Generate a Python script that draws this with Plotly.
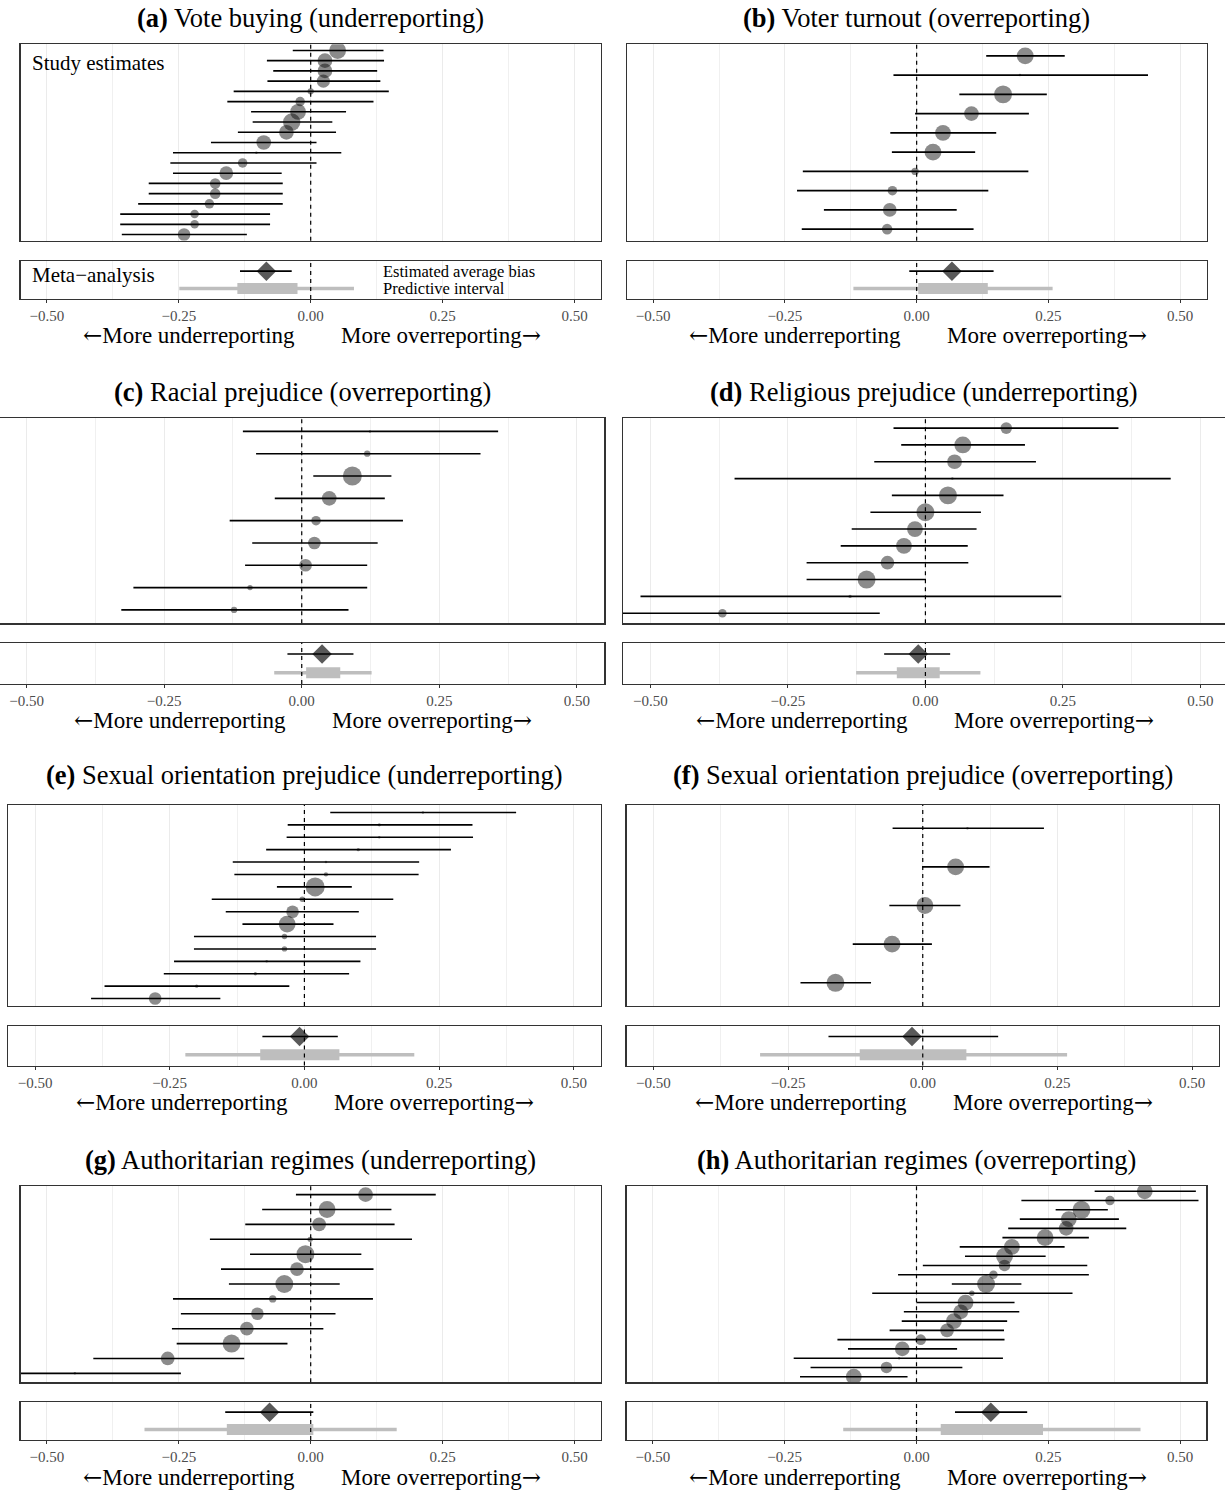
import math
import plotly.graph_objects as go

# ---------------- data ----------------
a_est = [0.051, 0.027, 0.027, 0.024, 0.000, -0.020, -0.024, -0.036, -0.046, -0.089, -0.103, -0.129, -0.160, -0.181, -0.181, -0.192, -0.220, -0.220, -0.240]
a_lo = [-0.034, -0.083, -0.071, -0.082, -0.146, -0.158, -0.113, -0.110, -0.138, -0.189, -0.261, -0.266, -0.261, -0.307, -0.307, -0.327, -0.361, -0.361, -0.358]
a_hi = [0.138, 0.139, 0.126, 0.132, 0.148, 0.119, 0.067, 0.041, 0.048, 0.011, 0.058, 0.011, -0.055, -0.053, -0.053, -0.053, -0.077, -0.077, -0.121]
a_w = [0.79, 0.60, 0.60, 0.48, 0.11, 0.25, 0.69, 0.84, 0.60, 0.60, 0.01, 0.25, 0.52, 0.31, 0.31, 0.25, 0.20, 0.20, 0.44]
a_meta = [-0.084, -0.134, -0.036]
a_pi_inner = [-0.139, -0.025]
a_pi_outer = [-0.249, 0.082]

b_est = [0.206, 0.196, 0.164, 0.104, 0.050, 0.031, -0.003, -0.046, -0.051, -0.056]
b_lo = [0.132, -0.044, 0.081, -0.003, -0.050, -0.047, -0.216, -0.227, -0.176, -0.218]
b_hi = [0.281, 0.439, 0.247, 0.213, 0.151, 0.111, 0.212, 0.136, 0.076, 0.108]
b_w = [0.79, 0.01, 0.89, 0.60, 0.69, 0.79, 0.15, 0.25, 0.52, 0.31]
b_meta = [0.067, -0.014, 0.146]
b_pi_inner = [0.003, 0.135]
b_pi_outer = [-0.120, 0.258]

c_est = [0.124, 0.119, 0.092, 0.050, 0.026, 0.023, 0.007, -0.094, -0.123]
c_lo = [-0.107, -0.083, 0.021, -0.049, -0.131, -0.090, -0.103, -0.306, -0.328]
c_hi = [0.357, 0.325, 0.163, 0.151, 0.184, 0.138, 0.119, 0.119, 0.085]
c_w = [0.01, 0.11, 1.0, 0.60, 0.25, 0.44, 0.44, 0.08, 0.11]
c_meta = [0.037, -0.026, 0.094]
c_pi_inner = [0.008, 0.070]
c_pi_outer = [-0.050, 0.127]

d_est = [0.147, 0.068, 0.053, 0.049, 0.041, 0.000, -0.019, -0.039, -0.069, -0.107, -0.137, -0.369]
d_lo = [-0.058, -0.044, -0.093, -0.347, -0.061, -0.100, -0.134, -0.154, -0.216, -0.216, -0.518, -0.655]
d_hi = [0.351, 0.181, 0.201, 0.446, 0.142, 0.101, 0.093, 0.077, 0.078, 0.001, 0.247, -0.083]
d_w = [0.37, 0.79, 0.60, 0.01, 0.89, 0.89, 0.69, 0.69, 0.52, 0.89, 0.03, 0.20]
d_meta = [-0.013, -0.075, 0.045]
d_pi_inner = [-0.052, 0.026]
d_pi_outer = [-0.126, 0.100]

e_est = [0.220, 0.139, 0.139, 0.100, 0.040, 0.040, 0.020, -0.004, -0.022, -0.032, -0.037, -0.037, -0.070, -0.091, -0.200, -0.277]
e_lo = [0.048, -0.031, -0.033, -0.071, -0.133, -0.130, -0.051, -0.172, -0.146, -0.115, -0.205, -0.205, -0.242, -0.261, -0.371, -0.396]
e_hi = [0.393, 0.312, 0.313, 0.272, 0.213, 0.212, 0.088, 0.165, 0.101, 0.054, 0.133, 0.133, 0.104, 0.083, -0.028, -0.156]
e_w = [0.01, 0.03, 0.01, 0.03, 0.01, 0.05, 1.0, 0.08, 0.44, 0.79, 0.08, 0.08, 0.01, 0.03, 0.03, 0.44]
e_meta = [-0.009, -0.078, 0.062]
e_pi_inner = [-0.082, 0.065]
e_pi_outer = [-0.221, 0.204]

f_est = [0.083, 0.061, 0.004, -0.057, -0.162]
f_lo = [-0.056, -0.001, -0.062, -0.130, -0.227]
f_hi = [0.225, 0.124, 0.070, 0.017, -0.096]
f_w = [0.01, 0.79, 0.79, 0.79, 0.89]
f_meta = [-0.020, -0.175, 0.140]
f_pi_inner = [-0.117, 0.081]
f_pi_outer = [-0.302, 0.268]

g_est = [0.104, 0.031, 0.016, -0.001, -0.010, -0.026, -0.050, -0.072, -0.101, -0.121, -0.150, -0.271, -0.447]
g_lo = [-0.028, -0.092, -0.124, -0.191, -0.115, -0.170, -0.155, -0.261, -0.246, -0.263, -0.254, -0.412, -0.648]
g_hi = [0.237, 0.153, 0.159, 0.192, 0.096, 0.119, 0.055, 0.118, 0.047, 0.024, -0.044, -0.126, -0.246]
g_w = [0.60, 0.79, 0.52, 0.08, 0.89, 0.52, 0.89, 0.15, 0.44, 0.52, 0.89, 0.52, 0.01]
g_meta = [-0.078, -0.162, 0.005]
g_pi_inner = [-0.159, 0.005]
g_pi_outer = [-0.315, 0.163]

h_est = [0.433, 0.367, 0.313, 0.289, 0.284, 0.244, 0.181, 0.167, 0.167, 0.146, 0.132, 0.105, 0.093, 0.084, 0.071, 0.058, 0.008, -0.027, -0.033, -0.057, -0.119]
h_lo = [0.338, 0.199, 0.264, 0.196, 0.174, 0.163, 0.082, 0.092, 0.012, -0.035, 0.067, -0.084, 0.000, -0.024, -0.028, -0.051, -0.150, -0.130, -0.233, -0.201, -0.221]
h_hi = [0.530, 0.535, 0.363, 0.384, 0.398, 0.327, 0.281, 0.245, 0.324, 0.327, 0.199, 0.296, 0.186, 0.195, 0.172, 0.166, 0.167, 0.077, 0.164, 0.087, -0.017]
h_w = [0.69, 0.25, 0.89, 0.69, 0.60, 0.79, 0.69, 0.79, 0.37, 0.20, 0.89, 0.08, 0.69, 0.60, 0.69, 0.52, 0.31, 0.60, 0.01, 0.37, 0.69]
h_meta = [0.141, 0.073, 0.210]
h_pi_inner = [0.046, 0.240]
h_pi_outer = [-0.139, 0.425]

panel_keys = ["(a)", "(b)", "(c)", "(d)", "(e)", "(f)", "(g)", "(h)"]
panel_titles = [
    "Vote buying (underreporting)",
    "Voter turnout (overreporting)",
    "Racial prejudice (overreporting)",
    "Religious prejudice (underreporting)",
    "Sexual orientation prejudice (underreporting)",
    "Sexual orientation prejudice (overreporting)",
    "Authoritarian regimes (underreporting)",
    "Authoritarian regimes (overreporting)",
]
tick_vals = [-0.5, -0.25, 0.0, 0.25, 0.5]
tick_text = ["\u22120.50", "\u22120.25", "0.00", "0.25", "0.50"]
minor_vals = [-0.375, -0.125, 0.125, 0.375]

panels = [
    dict(est=a_est, lo=a_lo, hi=a_hi, w=a_w, meta=a_meta, inner=a_pi_inner, outer=a_pi_outer),
    dict(est=b_est, lo=b_lo, hi=b_hi, w=b_w, meta=b_meta, inner=b_pi_inner, outer=b_pi_outer),
    dict(est=c_est, lo=c_lo, hi=c_hi, w=c_w, meta=c_meta, inner=c_pi_inner, outer=c_pi_outer),
    dict(est=d_est, lo=d_lo, hi=d_hi, w=d_w, meta=d_meta, inner=d_pi_inner, outer=d_pi_outer),
    dict(est=e_est, lo=e_lo, hi=e_hi, w=e_w, meta=e_meta, inner=e_pi_inner, outer=e_pi_outer),
    dict(est=f_est, lo=f_lo, hi=f_hi, w=f_w, meta=f_meta, inner=f_pi_inner, outer=f_pi_outer),
    dict(est=g_est, lo=g_lo, hi=g_hi, w=g_w, meta=g_meta, inner=g_pi_inner, outer=g_pi_outer),
    dict(est=h_est, lo=h_lo, hi=h_hi, w=h_w, meta=h_meta, inner=h_pi_inner, outer=h_pi_outer),
]

# ---------------- geometry (pixels) ----------------
W, H = 1225, 1490
FONT = "Liberation Serif"
ARROW_FONT = "DejaVu Serif"
box_x = [(20.5, 600.9), (626.8, 1206.5), (0.0, 604.3), (622.9, 1225.0),
         (8.1, 600.7), (626.5, 1219.0), (20.5, 600.9), (626.6, 1206.4)]
x_ranges = [(-0.55, 0.55), (-0.55, 0.55), (-0.5485, 0.55), (-0.55, 0.5447),
            (-0.55, 0.55), (-0.55, 0.55), (-0.55, 0.55), (-0.55, 0.55)]
# per row: title_y, study_top, study_bottom, meta_top, meta_bottom, label_y
rows_px = [(18.3, 44.3, 240.7, 260.7, 299.0, 335.0),
           (391.7, 418.0, 623.3, 642.7, 684.0, 720.0),
           (775.0, 805.0, 1006.0, 1025.7, 1065.5, 1101.7),
           (1160.0, 1185.7, 1382.3, 1401.7, 1440.0, 1476.7)]

DOT = "rgba(0,0,0,0.65)"
GRAY = "#bebebe"
BORDER = "#333333"
GRID = "#ebebeb"


def px_x(p):
    return p / W


def px_y(p):
    return 1 - p / H


fig = go.Figure()
layout = dict(
    width=W, height=H, margin=dict(l=0, r=0, t=0, b=0),
    paper_bgcolor="white", plot_bgcolor="white", showlegend=False,
    font=dict(family=FONT, color="black"),
)
annotations = []
shapes = []

left_label = f"<span style='font-family:{ARROW_FONT}'>\u2190</span>More underreporting"
right_label = f"More overreporting<span style='font-family:{ARROW_FONT}'>\u2192</span>"

for i, p in enumerate(panels):
    col_x = box_x[i]
    rp = rows_px[i // 2]
    xs, xm = 2 * i + 1, 2 * i + 2
    xs_name = "xaxis" if xs == 1 else f"xaxis{xs}"
    ys_name = "yaxis" if xs == 1 else f"yaxis{xs}"
    xm_name, ym_name = f"xaxis{xm}", f"yaxis{xm}"
    xs_ref = "x" if xs == 1 else f"x{xs}"
    ys_ref = "y" if xs == 1 else f"y{xs}"
    xm_ref, ym_ref = f"x{xm}", f"y{xm}"
    n = len(p["est"])
    xdom = [px_x(col_x[0]), px_x(col_x[1])]

    common_x = dict(
        domain=xdom, range=list(x_ranges[i]), showgrid=True, gridcolor=GRID, gridwidth=1,
        zeroline=False, showline=True, mirror=True, linecolor=BORDER, linewidth=1.2,
        tickvals=tick_vals, fixedrange=True,
        minor=dict(tickvals=minor_vals, showgrid=True, gridcolor="#f0f0f0", gridwidth=1, ticks=""),
    )
    side = "left"
    y_mirror = True
    if i == 2:
        side, y_mirror = "right", False
    if i == 3:
        side, y_mirror = "left", False
    common_y = dict(showgrid=False, zeroline=False, showticklabels=False, ticks="",
                    showline=True, mirror=y_mirror, side=side, linecolor=BORDER,
                    linewidth=1.2, fixedrange=True)

    layout[xs_name] = dict(common_x, anchor=ys_ref, showticklabels=False, ticks="", ticktext=tick_text)
    layout[ys_name] = dict(common_y, anchor=xs_ref,
                           domain=[px_y(rp[2]), px_y(rp[1])], range=[0.4, n + 0.6])
    layout[xm_name] = dict(common_x, anchor=ym_ref, showticklabels=True, ticks="outside",
                           ticklen=3, tickwidth=1, tickcolor=BORDER, ticktext=tick_text,
                           tickfont=dict(family=FONT, size=15, color="#4d4d4d"))
    layout[ym_name] = dict(common_y, anchor=xm_ref,
                           domain=[px_y(rp[4]), px_y(rp[3])], range=[0.4, 2.6])

    # study estimates
    yrow = list(range(n, 0, -1))
    sizes = [max(2.5, 19 * math.sqrt(w)) for w in p["w"]]
    fig.add_trace(go.Scatter(
        x=p["est"], y=yrow, xaxis=xs_ref, yaxis=ys_ref, mode="markers",
        marker=dict(size=sizes, color=DOT, line=dict(width=0)),
        error_x=dict(type="data", symmetric=False,
                     array=[h - e for h, e in zip(p["hi"], p["est"])],
                     arrayminus=[e - l for e, l in zip(p["est"], p["lo"])],
                     color="black", thickness=1.6, width=0),
        hoverinfo="skip",
    ))

    # meta-analysis: predictive intervals then estimate
    fig.add_trace(go.Scatter(
        x=p["outer"], y=[1, 1], xaxis=xm_ref, yaxis=ym_ref, mode="lines",
        line=dict(color=GRAY, width=3.5), hoverinfo="skip"))
    fig.add_trace(go.Scatter(
        x=p["inner"], y=[1, 1], xaxis=xm_ref, yaxis=ym_ref, mode="lines",
        line=dict(color=GRAY, width=11), hoverinfo="skip"))
    m = p["meta"]
    fig.add_trace(go.Scatter(
        x=[m[0]], y=[2], xaxis=xm_ref, yaxis=ym_ref, mode="markers",
        marker=dict(symbol="diamond", size=15, color=DOT, line=dict(width=0)),
        error_x=dict(type="data", symmetric=False, array=[m[2] - m[0]],
                     arrayminus=[m[0] - m[1]], color="black", thickness=1.6, width=0),
        hoverinfo="skip"))

    for xr, yr in ((xs_ref, ys_ref), (xm_ref, ym_ref)):
        shapes.append(dict(type="line", xref=xr, yref=yr + " domain", x0=0, x1=0, y0=0, y1=1,
                           line=dict(color="black", width=1.2, dash="4px,4px"), layer="above"))

    cx = (col_x[0] + col_x[1]) / 2
    annotations.append(dict(
        text=f"<b>{panel_keys[i]}</b> {panel_titles[i]}", x=px_x(cx), y=px_y(rp[0]),
        xref="paper", yref="paper", xanchor="center", yanchor="middle", showarrow=False,
        font=dict(family=FONT, size=26.5, color="black")))
    annotations.append(dict(
        text=left_label, x=px_x(cx), y=px_y(rp[5]), xshift=-14,
        xref="paper", yref="paper", xanchor="right", yanchor="middle", showarrow=False,
        font=dict(family=FONT, size=23, color="black")))
    annotations.append(dict(
        text=right_label, x=px_x(cx), y=px_y(rp[5]), xshift=28,
        xref="paper", yref="paper", xanchor="left", yanchor="middle", showarrow=False,
        font=dict(family=FONT, size=23, color="black")))

    if i == 0:
        annotations.append(dict(
            text="Study estimates", x=0.0164, y=0.906, xref=xs_ref + " domain",
            yref=ys_ref + " domain", xanchor="left", yanchor="middle", showarrow=False,
            font=dict(family=FONT, size=21, color="black")))
        annotations.append(dict(
            text="Meta\u2212analysis", x=0.0164, y=0.627, xref=xm_ref + " domain",
            yref=ym_ref + " domain", xanchor="left", yanchor="middle", showarrow=False,
            font=dict(family=FONT, size=21, color="black")))
        annotations.append(dict(
            text="Estimated average bias", x=0.1325, y=2, xref=xm_ref, yref=ym_ref,
            xanchor="left", yanchor="middle", showarrow=False,
            font=dict(family=FONT, size=16.5, color="black")))
        annotations.append(dict(
            text="Predictive interval", x=0.1325, y=1, xref=xm_ref, yref=ym_ref,
            xanchor="left", yanchor="middle", showarrow=False,
            font=dict(family=FONT, size=16.5, color="black")))

layout["annotations"] = annotations
layout["shapes"] = shapes
fig.update_layout(**layout)
fig.write_html("out.html", config={"displayModeBar": False, "staticPlot": True},
               post_script="document.body.style.margin='0px';document.body.style.overflow='hidden';")
